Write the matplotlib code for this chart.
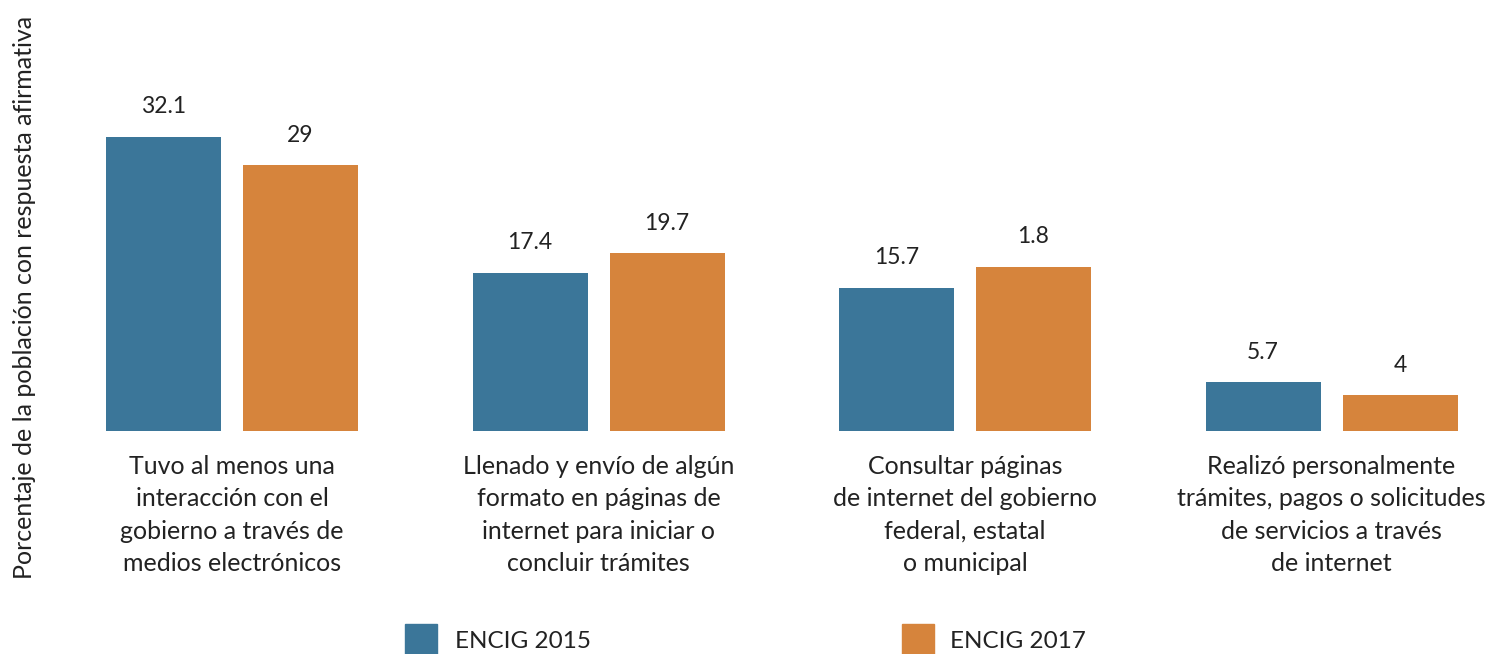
import matplotlib
matplotlib.use("Agg")
import matplotlib.pyplot as plt
from matplotlib.patches import Rectangle
import numpy as np

plt.rcParams['font.family'] = ['Lato', 'DejaVu Sans']

categories = [
    "Tuvo al menos una\ninteracción con el\ngobierno a través de\nmedios electrónicos",
    "Llenado y envío de algún\nformato en páginas de\ninternet para iniciar o\nconcluir trámites",
    "Consultar páginas\nde internet del gobierno\nfederal, estatal\no municipal",
    "Realizó personalmente\ntrámites, pagos o solicitudes\nde servicios a través\nde internet",
]
# bar heights as drawn in the picture
encig_2015 = [32.1, 17.3, 15.6, 5.3]
encig_2017 = [29, 19.4, 17.9, 3.9]
# labels as printed
labels_2015 = ["32.1", "17.4", "15.7", "5.7"]
labels_2017 = ["29", "19.7", "1.8", "4"]
series_names = ["ENCIG 2015", "ENCIG 2017"]

blue = "#3B7699"
orange = "#D6843C"
txt = "#222222"

fig = plt.figure(figsize=(14.94, 6.54), dpi=100)
ax = fig.add_axes([0, 223 / 654, 1, 431 / 654])

x = np.arange(len(categories))
w = 115 / 366.5
off = 137 / 366.5 / 2

b1 = ax.bar(x - off, encig_2015, w, color=blue)
b2 = ax.bar(x + off, encig_2017, w, color=orange)

for bars, labs in [(b1, labels_2015), (b2, labels_2017)]:
    for r, lab in zip(bars, labs):
        ax.annotate(lab, (r.get_x() + r.get_width() / 2, r.get_height()),
                    xytext=(0, 17), textcoords="offset points",
                    ha="center", va="baseline", fontsize=16.5, color=txt)

for xi, cat in zip(x, categories):
    ax.annotate(cat, (xi, 0), xytext=(0, -17), textcoords="offset points",
                ha="center", va="top", fontsize=18, color=txt, linespacing=1.5)

ax.set_xlim(-232 / 366.5, (1494 - 232) / 366.5)
ax.set_ylim(0, 431 / 9.16)
ax.axis("off")

fig.text(25 / 1494, (654 - 297) / 654, "Porcentaje de la población con respuesta afirmativa",
         rotation=90, ha="center", va="center", fontsize=18, color=txt)

# legend
for (lx, tx), name, col in zip([(405, 455), (902, 950)], series_names, [blue, orange]):
    fig.add_artist(Rectangle((lx / 1494, 0), 32 / 1494, 30 / 654,
                             transform=fig.transFigure, color=col))
    fig.text(tx / 1494, 13 / 654, name, ha="left", va="center", fontsize=17.5, color=txt)

fig.savefig("out.png", dpi=100)
